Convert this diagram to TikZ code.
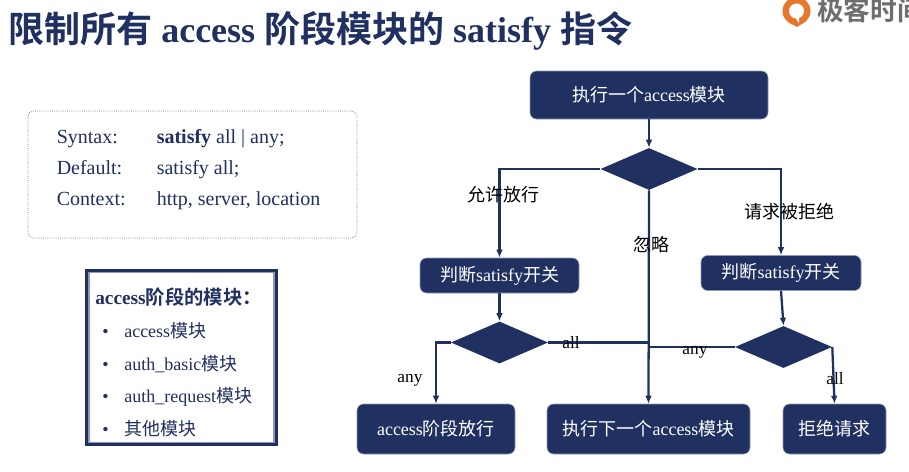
\documentclass[tikz,border=0pt]{standalone}
\usepackage{fontspec}
\setmainfont{Liberation Serif}
\newfontfamily\cjk[BoldFont=Noto Sans CJK SC Bold]{Noto Sans CJK SC}
\newcommand{\zh}[1]{{\cjk #1}}
\usetikzlibrary{positioning, calc, shapes.geometric, arrows.meta}
\definecolor{navy}{HTML}{203060}
\definecolor{slate}{HTML}{8E97B5}
\definecolor{logoorange}{HTML}{E8762D}
\definecolor{logogray}{HTML}{6E6E6E}
\tikzset{
    stepnode/.style={fill=navy, draw=slate, line width=0.4pt, rounded corners=5pt, text=white, font=\fontsize{13.5}{15}\selectfont, inner sep=0pt},
    choice/.style={diamond, fill=navy, draw=none, inner sep=0pt, minimum width=72.8pt, minimum height=31.5pt, aspect=2.3},
    flow/.style={navy, line width=1.7pt, -{Latex[length=6pt,width=5pt]}},
    link/.style={navy, line width=1.7pt},
    caption/.style={text=black, font=\fontsize{13.5}{15}\selectfont, inner sep=0pt},
    tag/.style={text=black, font=\fontsize{13}{14}\selectfont, inner sep=0pt},
    syntax/.style={anchor=base west, text=navy, font=\fontsize{15}{17}\selectfont, inner sep=0pt},
    item/.style={anchor=base west, text=navy, font=\fontsize{13.5}{15}\selectfont, inner sep=0pt},
}
\begin{document}
\begin{tikzpicture}[x=0.75pt, y=-0.75pt]
    \useasboundingbox (0,0) rectangle (909,471);
    \fill[white] (0,0) rectangle (909,471);
    % title
    \node[anchor=base west, text=navy, inner sep=0pt, font=\bfseries\fontsize{27}{30}\selectfont] (title) at (8,42)
        {\zh{限制所有} access \zh{阶段模块的} satisfy \zh{指令}};
    % logo
    \fill[logoorange] (796.5,11) circle (14);
    \fill[white] (796.5,11) circle (7.5);
    \fill[white] (793,4) -- (799,4) -- (799,23) -- (794,16) -- cycle;
    \fill[logoorange] (790,23) -- (803,23) -- (797,27) -- cycle;
    \node[anchor=base west, text=logogray, inner sep=0pt, font=\bfseries\fontsize{20}{22}\selectfont] (logo) at (817,20)
        {\zh{极客时间}};
    % syntax box
    \node[draw=slate!70!navy, densely dotted, line width=0.6pt, rounded corners=4pt, minimum width=246.75pt, minimum height=95.25pt] (syntaxbox) at (192.5,174.5) {};
    \node[syntax] (syntaxkey) at (56.5,143) {Syntax:};
    \node[syntax] (syntaxval) at (156.5,143) {\textbf{satisfy} all | any;};
    \node[syntax] (defaultkey) at (56.5,174) {Default:};
    \node[syntax] (defaultval) at (156.5,174) {satisfy all;};
    \node[syntax] (contextkey) at (56.5,205) {Context:};
    \node[syntax] (contextval) at (156.5,205) {http, server, location};
    % modules box
    \node[draw=navy, line width=2.2pt, minimum width=142pt, minimum height=131pt] (modbox) at (181.5,357.5) {};
    \node[draw=slate, line width=1.1pt, minimum width=138.7pt, minimum height=127.7pt] (modinner) at (181.5,357.5) {};
    \node[anchor=base west, text=navy, inner sep=0pt, font=\bfseries\fontsize{14.5}{16}\selectfont] (modtitle) at (95,304)
        {access\zh{阶段的模块：}};
    \node[item] (dot1) at (102,337) {•};
    \node[item] (mod1) at (124,337) {access\zh{模块}};
    \node[item] (dot2) at (102,370) {•};
    \node[item] (mod2) at (124,370) {auth\_basic\zh{模块}};
    \node[item] (dot3) at (102,402) {•};
    \node[item] (mod3) at (124,402) {auth\_request\zh{模块}};
    \node[item] (dot4) at (102,435) {•};
    \node[item] (mod4) at (124,435) {\zh{其他模块}};
    % flow nodes
    \node[stepnode, minimum width=178.5pt, minimum height=36pt] (start) at (649,95) {\zh{执行一个}access\zh{模块}};
    \node[choice] (rule) at (649,169) {};
    \node[stepnode, minimum width=119.25pt, minimum height=26.25pt] (judgeleft) at (499.5,275.5) {\zh{判断}satisfy\zh{开关}};
    \node[stepnode, minimum width=120pt, minimum height=26.25pt] (judgeright) at (781,273) {\zh{判断}satisfy\zh{开关}};
    \node[choice] (leftchoice) at (499.5,342.5) {};
    \node[choice] (rightchoice) at (783.5,347) {};
    \node[stepnode, minimum width=118.5pt, minimum height=37.5pt] (pass) at (436,429) {access\zh{阶段放行}};
    \node[stepnode, minimum width=152.25pt, minimum height=37.5pt] (next) at (648.5,429) {\zh{执行下一个}access\zh{模块}};
    \node[stepnode, minimum width=77.25pt, minimum height=37.5pt] (reject) at (834.5,429) {\zh{拒绝请求}};
    % connectors
    \draw[flow] (start) -- (rule);
    \draw[flow] (rule.west) -| (judgeleft.north);
    \draw[flow] (rule.east) -| (judgeright.north);
    \draw[flow] (rule.south) -- (next.north);
    \draw[flow] (judgeleft) -- (leftchoice);
    \draw[flow] (judgeright.south) -- (rightchoice.north);
    \draw[flow] (leftchoice.west) -| (pass.north);
    \draw[link] (leftchoice.east) -- (leftchoice.east -| next.north);
    \draw[link] (rightchoice.west) -- (rightchoice.west -| next.north);
    \draw[flow] (rightchoice.east) -- (reject.north);
    % labels
    \node[caption] (allowlabel) at (503,195) {\zh{允许放行}};
    \node[caption] (denylabel) at (789,212) {\zh{请求被拒绝}};
    \node[caption] (ignorelabel) at (651,245) {\zh{忽略}};
    \node[tag] (leftall) at (571,343) {all};
    \node[tag] (leftany) at (410,380) {any};
    \node[tag] (rightany) at (695,352) {any};
    \node[tag] (rightall) at (835,379) {all};
\end{tikzpicture}
\end{document}
